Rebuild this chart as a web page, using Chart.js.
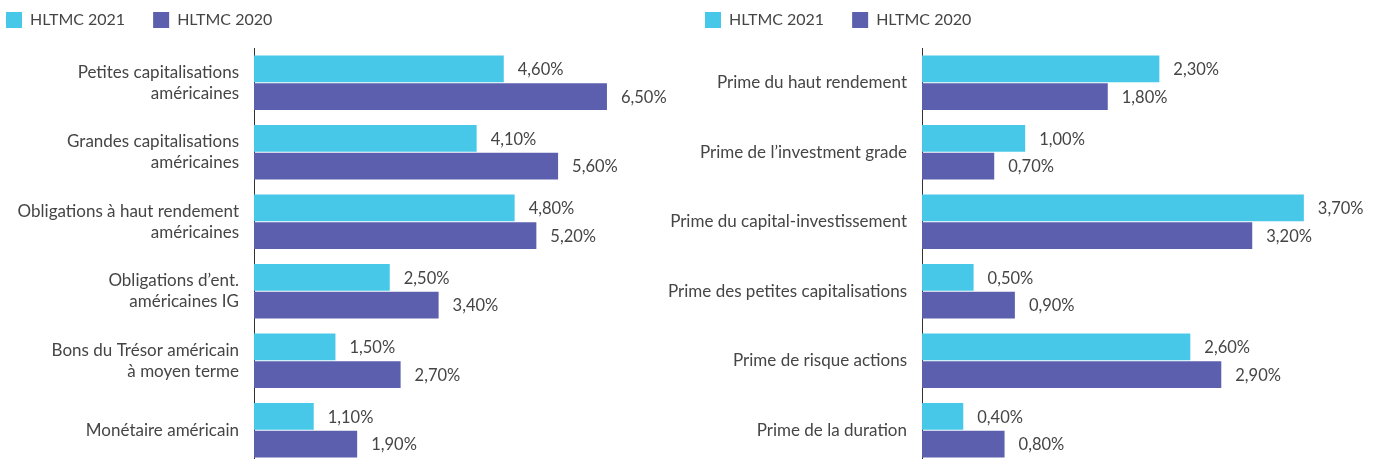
<!DOCTYPE html>
<html><head><meta charset="utf-8">
<script src="https://cdn.jsdelivr.net/npm/chart.js@4.4.1/dist/chart.umd.min.js"></script>
<style>
html,body{margin:0;padding:0;background:#fff;overflow:hidden;width:1375px;height:459px;}
.box{position:absolute;top:0;height:465px;}
#lb{left:0;width:700px;}
#rb{left:640px;width:735px;}
</style></head><body>
<div class="box" id="lb"><canvas id="l"></canvas></div>
<div class="box" id="rb"><canvas id="r"></canvas></div>
<script>
const seriesLabels = ['HLTMC 2021', 'HLTMC 2020'];
const leftCategories = [
  ['Petites capitalisations', 'américaines'],
  ['Grandes capitalisations', 'américaines'],
  ['Obligations à haut rendement', 'américaines'],
  ['Obligations d’ent.', 'américaines IG'],
  ['Bons du Trésor américain', 'à moyen terme'],
  'Monétaire américain'
];
const left2021 = [4.6, 4.1, 4.8, 2.5, 1.5, 1.1];
const left2020 = [6.5, 5.6, 5.2, 3.4, 2.7, 1.9];
const rightCategories = [
  'Prime du haut rendement',
  'Prime de l’investment grade',
  'Prime du capital-investissement',
  'Prime des petites capitalisations',
  'Prime de risque actions',
  'Prime de la duration'
];
const right2021 = [2.3, 1.0, 3.7, 0.5, 2.6, 0.4];
const right2020 = [1.8, 0.7, 3.2, 0.9, 2.9, 0.8];

const CYAN = '#48C8E8', PURPLE = '#5B5FAD', TEXT = '#454545';
const FONT = 'Lato';
const fmt = v => v.toFixed(2).replace('.', ',') + '%';

const legendPlugin = {
  id: 'customLegend',
  afterDraw(chart, args, opts) {
    const ctx = chart.ctx;
    ctx.save();
    let x = opts.x;
    ctx.font = '16px ' + FONT;
    ctx.textBaseline = 'middle';
    chart.data.datasets.forEach(ds => {
      ctx.fillStyle = ds.backgroundColor;
      ctx.fillRect(x, 12, 16, 16);
      ctx.fillStyle = TEXT;
      ctx.fillText(ds.label, x + 24, 20);
      x += 24 + ctx.measureText(ds.label).width + 28;
    });
    ctx.restore();
  }
};
const valuePlugin = {
  id: 'values',
  afterDatasetsDraw(chart) {
    const ctx = chart.ctx;
    ctx.save();
    ctx.font = '16.5px ' + FONT;
    ctx.fillStyle = TEXT;
    ctx.textBaseline = 'middle';
    ctx.textAlign = 'left';
    chart.data.datasets.forEach((ds, di) => {
      chart.getDatasetMeta(di).data.forEach((bar, i) => {
        ctx.fillText(fmt(ds.data[i]), bar.x + 14, bar.y + 1);
      });
    });
    ctx.restore();
  }
};

function make(id, cats, d1, d2, axisW, max, padRight, legendX) {
  return new Chart(document.getElementById(id), {
    type: 'bar',
    data: {
      labels: cats,
      datasets: [
        { label: seriesLabels[0], data: d1, backgroundColor: CYAN },
        { label: seriesLabels[1], data: d2, backgroundColor: PURPLE }
      ]
    },
    options: {
      indexAxis: 'y',
      responsive: true,
      maintainAspectRatio: false,
      animation: false,
      events: [],
      categoryPercentage: 0.8,
      barPercentage: 0.96,
      layout: { padding: { top: 48, right: padRight, left: 0, bottom: 0 } },
      plugins: {
        legend: { display: false },
        tooltip: { enabled: false },
        customLegend: { x: legendX }
      },
      scales: {
        x: { display: false, min: 0, max: max },
        y: {
          grid: { display: false, drawTicks: false, tickLength: 0 },
          border: { display: true, color: '#333', width: 1 },
          ticks: { color: TEXT, font: { family: FONT, size: 17, lineHeight: 1.25 }, padding: 15 },
          afterFit(s) { s.width = axisW; s.paddingTop = 0; s.paddingBottom = 0; }
        }
      }
    },
    plugins: [legendPlugin, valuePlugin]
  });
}

document.fonts.load('16px ' + FONT).finally(() => {
  make('l', leftCategories, left2021, left2020, 254, 7, 700 - 254 - 7 * 54.3, 6);
  make('r', rightCategories, right2021, right2020, 282, 4, 735 - 282 - 4 * 103.2, 65);
});
</script>
</body></html>
